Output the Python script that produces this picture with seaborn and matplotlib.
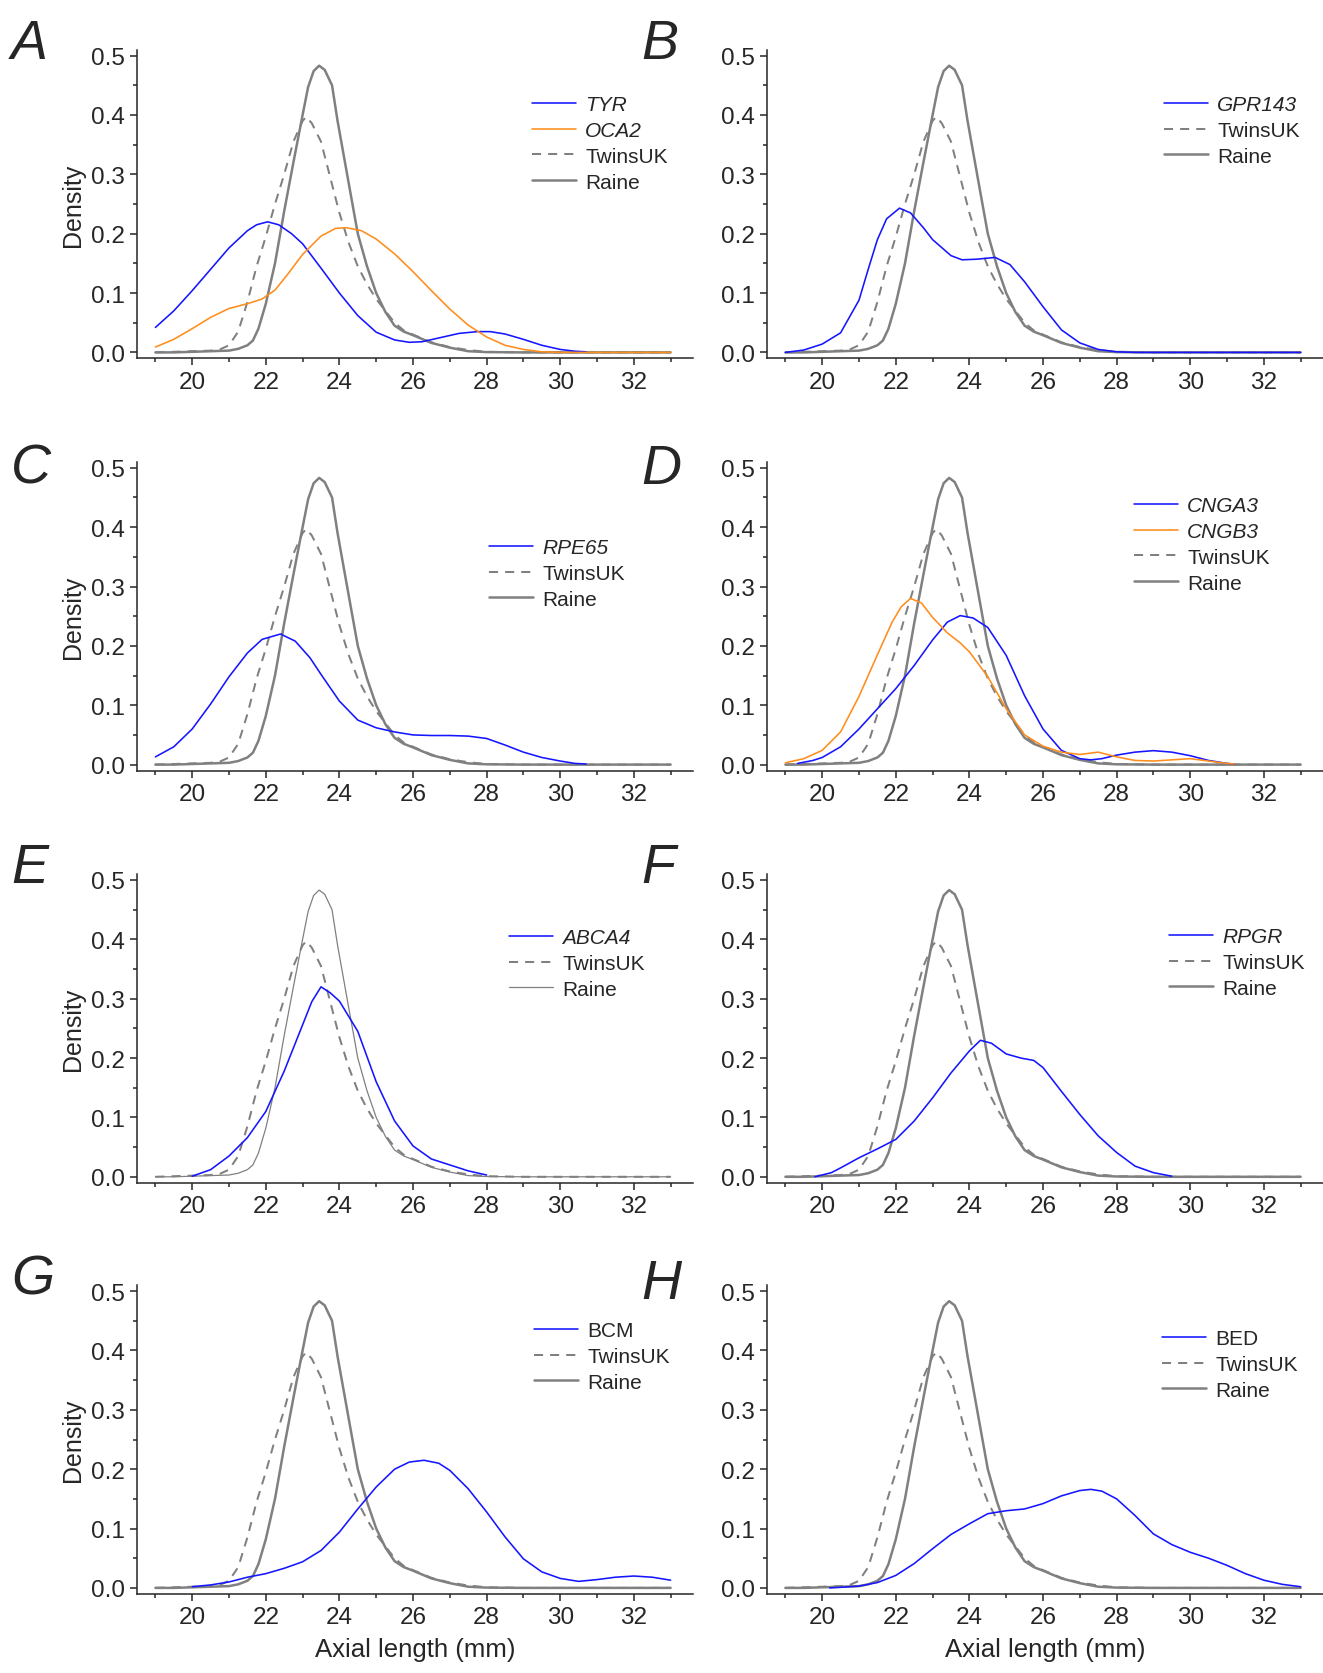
import numpy as np
import matplotlib
matplotlib.use('Agg')
import matplotlib.pyplot as plt
from matplotlib.ticker import MultipleLocator
import seaborn as sns

sns.set_style('ticks')
plt.rcParams['font.family'] = ['Liberation Sans', 'DejaVu Sans']

# reference cohorts (same curves in every panel)
raine_x = [19, 19.5, 20, 20.5, 21, 21.25, 21.5, 21.65, 21.8, 22, 22.25, 22.5, 22.75, 23, 23.15,
           23.3, 23.45, 23.6, 23.8, 23.95, 24.25, 24.5, 24.75, 25, 25.25, 25.5, 25.75, 26,
           26.5, 27, 27.5, 28, 29, 33]
raine_y = [0, 0, 0.001, 0.002, 0.003, 0.006, 0.012, 0.020, 0.040, 0.082, 0.150, 0.238, 0.320,
           0.400, 0.447, 0.474, 0.483, 0.476, 0.450, 0.390, 0.286, 0.200, 0.145, 0.100, 0.068,
           0.045, 0.035, 0.029, 0.016, 0.008, 0.002, 0.0005, 0, 0]
twins_x = [19, 19.5, 20, 20.5, 20.75, 21, 21.25, 21.5, 21.75, 22, 22.25, 22.5, 22.75, 23,
           23.1, 23.25, 23.5, 23.75, 24, 24.25, 24.5, 24.75, 25, 25.25, 25.5, 25.75, 26, 26.5,
           27, 27.5, 28, 29, 33]
twins_y = [0, 0.001, 0.002, 0.003, 0.005, 0.012, 0.035, 0.085, 0.145, 0.195, 0.250, 0.300,
           0.355, 0.390, 0.397, 0.386, 0.355, 0.295, 0.235, 0.185, 0.145, 0.115, 0.090, 0.070,
           0.050, 0.037, 0.030, 0.017, 0.009, 0.004, 0.001, 0, 0]

# gene curves
tyr_x = [19, 19.5, 20, 20.5, 21, 21.5, 21.75, 22.05, 22.35, 22.7, 23, 23.5, 24, 24.5, 25,
         25.5, 25.9, 26.25, 26.75, 27.25, 27.75, 28.1, 28.5, 29, 29.5, 30, 30.4, 30.7]
tyr_y = [0.042, 0.070, 0.104, 0.140, 0.176, 0.205, 0.215, 0.220, 0.215, 0.200, 0.183, 0.142,
         0.100, 0.062, 0.034, 0.021, 0.017, 0.018, 0.025, 0.032, 0.035, 0.035, 0.031, 0.022,
         0.012, 0.005, 0.002, 0.001]
oca2_x = [19, 19.5, 20, 20.5, 21, 21.5, 21.9, 22.25, 22.6, 23, 23.5, 23.9, 24.2, 24.6, 25,
          25.5, 26, 26.5, 27, 27.5, 28, 28.5, 29, 29.5, 30, 33]
oca2_y = [0.009, 0.022, 0.040, 0.059, 0.074, 0.082, 0.090, 0.105, 0.132, 0.165, 0.196, 0.209,
          0.210, 0.205, 0.191, 0.166, 0.136, 0.104, 0.073, 0.046, 0.026, 0.012, 0.005, 0.001,
          0, 0]
gpr143_x = [19, 19.5, 20, 20.5, 21, 21.25, 21.5, 21.75, 22.1, 22.4, 22.75, 23, 23.5, 23.8,
            24.2, 24.7, 25.1, 25.5, 26, 26.5, 27, 27.5, 28, 28.5, 33]
gpr143_y = [0, 0.004, 0.014, 0.033, 0.088, 0.140, 0.190, 0.225, 0.243, 0.235, 0.210, 0.190,
            0.163, 0.156, 0.157, 0.160, 0.148, 0.119, 0.077, 0.038, 0.016, 0.005, 0.001, 0, 0]
rpe65_x = [19, 19.5, 20, 20.5, 21, 21.5, 21.9, 22.4, 22.8, 23.2, 23.5, 24, 24.5, 25, 25.5,
           26, 26.5, 27, 27.5, 28, 28.5, 29, 29.5, 30, 30.4, 30.7]
rpe65_y = [0.013, 0.030, 0.060, 0.102, 0.148, 0.188, 0.211, 0.220, 0.208, 0.180, 0.152, 0.107,
           0.075, 0.062, 0.055, 0.050, 0.049, 0.049, 0.048, 0.044, 0.033, 0.021, 0.012, 0.006,
           0.002, 0.001]
cnga3_x = [19.33, 19.75, 20, 20.5, 21, 21.5, 22, 22.5, 23, 23.4, 23.75, 24.1, 24.5, 25, 25.5,
           26, 26.5, 27, 27.3, 27.6, 28, 28.5, 29, 29.5, 30, 30.5, 31, 31.2]
cnga3_y = [0.002, 0.007, 0.012, 0.030, 0.060, 0.094, 0.128, 0.167, 0.210, 0.240, 0.251, 0.247,
           0.231, 0.184, 0.116, 0.060, 0.024, 0.010, 0.008, 0.010, 0.016, 0.021, 0.0235, 0.021,
           0.015, 0.007, 0.002, 0.001]
cngb3_x = [19, 19.5, 20, 20.5, 21, 21.5, 21.9, 22.15, 22.4, 22.7, 23, 23.4, 23.75, 24, 24.5,
           25, 25.5, 26, 26.5, 27, 27.5, 28, 28.5, 29, 29.5, 30, 30.5, 31, 31.2]
cngb3_y = [0.003, 0.010, 0.024, 0.055, 0.115, 0.185, 0.240, 0.266, 0.280, 0.272, 0.248, 0.222,
           0.205, 0.190, 0.148, 0.094, 0.050, 0.031, 0.021, 0.017, 0.021, 0.013, 0.007, 0.006,
           0.008, 0.010, 0.006, 0.002, 0.001]
abca4_x = [20, 20.5, 21, 21.5, 22, 22.5, 23, 23.25, 23.5, 23.75, 24, 24.5, 25, 25.5, 26, 26.5,
           27, 27.5, 28]
abca4_y = [0.001, 0.012, 0.035, 0.066, 0.110, 0.178, 0.256, 0.295, 0.320, 0.310, 0.296, 0.245,
           0.160, 0.094, 0.052, 0.030, 0.020, 0.010, 0.003]
rpgr_x = [19.8, 20.25, 20.5, 21, 21.5, 22, 22.5, 23, 23.5, 24, 24.3, 24.6, 25, 25.4, 25.75,
          26, 26.5, 27, 27.5, 28, 28.5, 29, 29.5]
rpgr_y = [0, 0.007, 0.015, 0.032, 0.047, 0.063, 0.094, 0.133, 0.175, 0.212, 0.230, 0.225,
          0.207, 0.200, 0.196, 0.184, 0.144, 0.105, 0.069, 0.041, 0.018, 0.007, 0.001]
bcm_x = [20, 20.5, 21, 21.5, 22, 22.5, 23, 23.5, 24, 24.5, 25, 25.5, 25.9, 26.3, 26.7, 27,
         27.5, 28, 28.5, 29, 29.5, 30, 30.5, 31, 31.5, 32, 32.5, 33]
bcm_y = [0.002, 0.005, 0.010, 0.018, 0.024, 0.033, 0.044, 0.063, 0.094, 0.133, 0.170, 0.200,
         0.212, 0.215, 0.210, 0.198, 0.167, 0.128, 0.086, 0.049, 0.027, 0.016, 0.011, 0.014,
         0.018, 0.020, 0.018, 0.013]
bed_x = [20.2, 20.5, 21, 21.5, 22, 22.5, 23, 23.5, 24, 24.5, 25, 25.5, 26, 26.5, 27, 27.3,
         27.6, 28, 28.5, 29, 29.5, 30, 30.5, 31, 31.5, 32, 32.5, 33]
bed_y = [0, 0.001, 0.003, 0.009, 0.021, 0.041, 0.066, 0.090, 0.108, 0.125, 0.130, 0.133,
         0.142, 0.155, 0.164, 0.166, 0.163, 0.150, 0.122, 0.091, 0.073, 0.060, 0.050, 0.038,
         0.024, 0.013, 0.006, 0.002]

gene_curves = {'TYR': (tyr_x, tyr_y), 'OCA2': (oca2_x, oca2_y),
               'GPR143': (gpr143_x, gpr143_y), 'RPE65': (rpe65_x, rpe65_y),
               'CNGA3': (cnga3_x, cnga3_y), 'CNGB3': (cngb3_x, cngb3_y),
               'ABCA4': (abca4_x, abca4_y), 'RPGR': (rpgr_x, rpgr_y),
               'BCM': (bcm_x, bcm_y), 'BED': (bed_x, bed_y)}
italic_genes = ['TYR', 'OCA2', 'GPR143', 'RPE65', 'CNGA3', 'CNGB3', 'ABCA4', 'RPGR']

panel_letters = ['A', 'B', 'C', 'D', 'E', 'F', 'G', 'H']
panel_genes = [['TYR', 'OCA2'], ['GPR143'], ['RPE65'], ['CNGA3', 'CNGB3'],
               ['ABCA4'], ['RPGR'], ['BCM'], ['BED']]

blue = '#1515ff'
orange = '#ff8d1c'
gray = '#808080'

W, H = 1323, 1674
fig = plt.figure(figsize=(W / 100, H / 100), dpi=100)

# layout in pixels (position of x=20 and y=0 in every panel)
col_x20 = [192.2, 822.2]
row_zero = [353.4, 765.6, 1177.8, 1588.9]
px_mm = 36.8
px_dens = 593.6
x_lo, x_hi = 18.5, 33.6
y_lo, y_hi = -0.010, 0.51

legend_px = [(532, 108), (1164, 108), (489, 551), (1134, 509),
             (509, 941), (1169, 940), (534, 1334), (1162, 1342)]
letter_base = [58.9, 58.9, 484, 484, 883.3, 883.3, 1294.4, 1299.5]

for i, letter in enumerate(panel_letters):
    r, c = divmod(i, 2)
    left = col_x20[c] - (20 - x_lo) * px_mm
    width = (x_hi - x_lo) * px_mm
    top = row_zero[r] - y_hi * px_dens
    height = (y_hi - y_lo) * px_dens
    ax = fig.add_axes([left / W, 1 - (top + height) / H, width / W, height / H])

    raine_lw = 0.9 if letter == 'E' else 1.8
    sns.lineplot(x=raine_x, y=raine_y, ax=ax, color=gray, lw=raine_lw, label='Raine')
    sns.lineplot(x=twins_x, y=twins_y, ax=ax, color=gray, lw=1.45,
                 linestyle=(0, (4.5, 3.5)), label='TwinsUK')
    for gene, col in zip(panel_genes[i], [blue, orange]):
        gx, gy = gene_curves[gene]
        sns.lineplot(x=gx, y=gy, ax=ax, color=col, lw=1.15, label=gene)

    ax.set_xlim(x_lo, x_hi)
    ax.set_ylim(y_lo, y_hi)
    ax.xaxis.set_major_locator(MultipleLocator(2))
    ax.xaxis.set_minor_locator(MultipleLocator(1))
    ax.yaxis.set_major_locator(MultipleLocator(0.1))
    ax.yaxis.set_minor_locator(MultipleLocator(0.05))
    ax.set_xticks(range(20, 33, 2))
    ax.set_yticks([0.0, 0.1, 0.2, 0.3, 0.4, 0.5])
    ax.set_yticklabels(['0.0', '0.1', '0.2', '0.3', '0.4', '0.5'])
    ax.tick_params(which='major', direction='out', length=5, width=1.1, labelsize=17.5, pad=4)
    ax.tick_params(which='minor', direction='out', length=3, width=1.1)
    for s in ['top', 'right']:
        ax.spines[s].set_visible(False)
    for s in ['left', 'bottom']:
        ax.spines[s].set_linewidth(1.1)

    if c == 0:
        ax.set_ylabel('Density', fontsize=18, labelpad=4)
    else:
        ax.set_ylabel('')
    if r == 3:
        ax.set_xlabel('Axial length (mm)', fontsize=18.5, labelpad=6)
    else:
        ax.set_xlabel('')

    handles, labels = ax.get_legend_handles_labels()
    order = panel_genes[i] + ['TwinsUK', 'Raine']
    hmap = dict(zip(labels, handles))
    hx, hy = legend_px[i]
    leg = ax.legend([hmap[k] for k in order], order, loc='upper left',
                    bbox_to_anchor=(hx / W, 1 - (hy - 12) / H),
                    bbox_transform=fig.transFigure, frameon=False, fontsize=15,
                    borderpad=0, borderaxespad=0, handlelength=2.1,
                    handletextpad=0.45, labelspacing=0.33)
    for t in leg.get_texts():
        if t.get_text() in italic_genes:
            t.set_style('italic')

    # panel letter
    lx = 11 if c == 0 else 641
    fig.text(lx / W, 1 - letter_base[i] / H, letter, fontsize=40,
             style='italic', ha='left', va='baseline')

fig.savefig('out.png', dpi=100)
